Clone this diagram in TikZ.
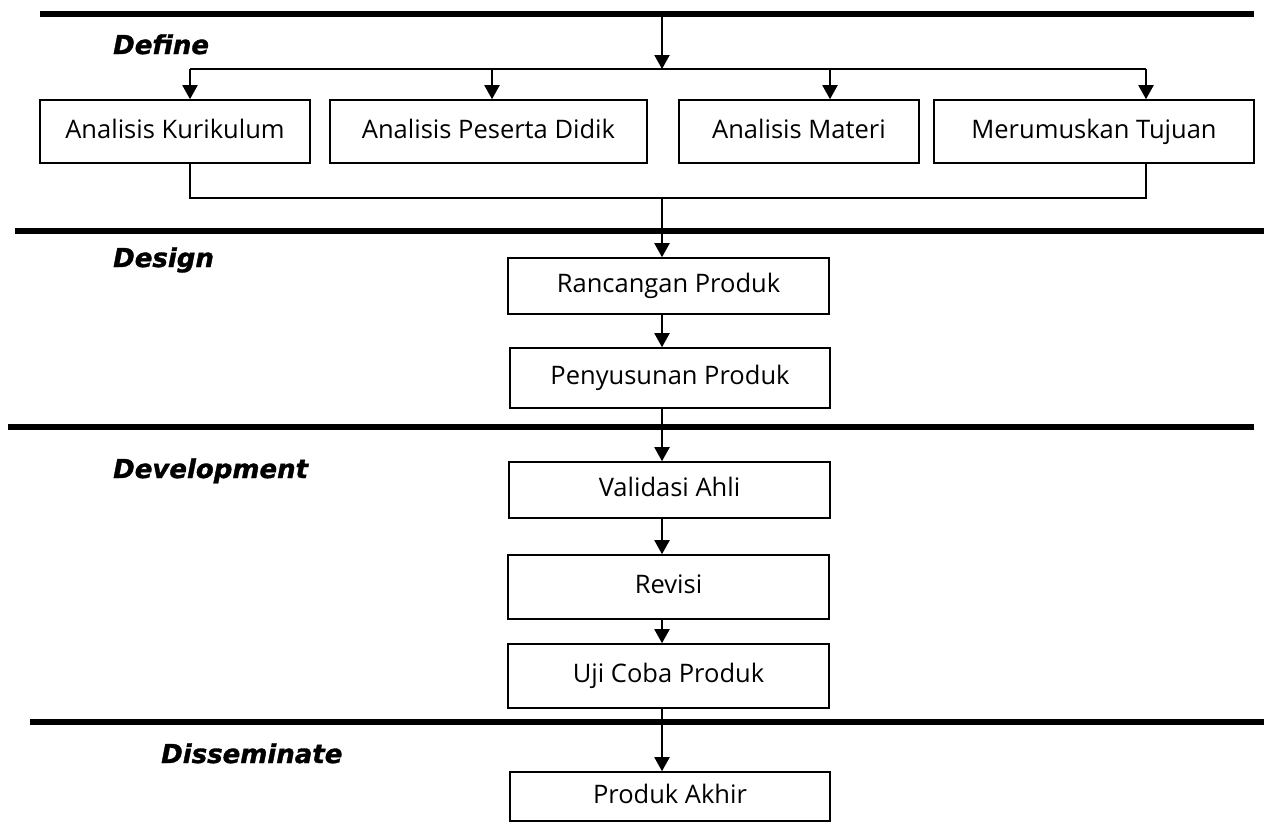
\documentclass[tikz,border=0pt]{standalone}
\usepackage{fontspec}
\setmainfont{Open Sans}
\newfontfamily\headfont{DejaVu Sans}[BoldItalicFeatures={FakeBold=1.2}]
\usetikzlibrary{arrows.meta}

\begin{document}
\begin{tikzpicture}[x=1pt, y=-1pt]
        \useasboundingbox (0,0) rectangle (1264,823);
        % phase separators
        \begin{scope}[line width=6pt]
                \draw (40,14) -- (1254,14);
                \draw (15,231) -- (1264,231);
                \draw (8,427) -- (1254,427);
                \draw (30,722) -- (1264,722);
        \end{scope}
        % phase titles
        \begin{scope}[every node/.style={anchor=base west, inner sep=0pt, font=\headfont\bfseries\itshape\fontsize{26}{30}\selectfont}]
                \node (Define) at (113,54) {Define};
                \node (Design) at (113,267) {Design};
                \node (Development) at (113,478) {Development};
                \node (Disseminate) at (161,763) {Disseminate};
        \end{scope}
        % steps
        \begin{scope}[every node/.style={draw, line width=1.6pt, inner sep=0pt, text height=18pt, text depth=5pt, font=\fontsize{25.5}{30}\selectfont}]
                \node[minimum width=270pt, minimum height=63pt] (Kur) at (175,131.5) {Analisis Kurikulum};
                \node[minimum width=317pt, minimum height=63pt] (Ppd) at (488.5,131.5) {Analisis Peserta Didik};
                \node[minimum width=240pt, minimum height=63pt] (Mat) at (799,131.5) {Analisis Materi};
                \node[minimum width=320pt, minimum height=63pt] (Tuj) at (1094,131.5) {Merumuskan Tujuan};
                \node[minimum width=321pt, minimum height=56pt] (Ran) at (668.5,286) {Rancangan Produk};
                \node[minimum width=320pt, minimum height=60pt] (Pen) at (670,378) {Penyusunan Produk};
                \node[minimum width=321pt, minimum height=56pt] (Val) at (669.5,490) {Validasi Ahli};
                \node[minimum width=321pt, minimum height=64pt] (Rev) at (668.5,587) {Revisi};
                \node[minimum width=321pt, minimum height=64pt] (Uji) at (668.5,676) {Uji Coba Produk};
                \node[minimum width=320pt, minimum height=49pt] (Akhir) at (670,796.5) {Produk Akhir};
        \end{scope}
        \coordinate (Top) at (662,17);
        \coordinate (Fork) at (662,69);
        \coordinate (Join) at (662,198);
        \coordinate (ForkL) at (190,69);
        \coordinate (ForkR) at (1146,69);
        \coordinate (JoinL) at (190,198);
        \coordinate (JoinR) at (1146,198);
        \begin{scope}[every path/.style={line width=1.3pt}]
                \draw (ForkL) -- (ForkR);
                \draw (Kur.south -| JoinL) -- (JoinL) -- (JoinR) -- (Tuj.south -| JoinR);
        \end{scope}
        \begin{scope}[every path/.style={line width=2pt, -{Triangle[width=15pt, length=14pt]}}]
                \path (Top) edge (Fork);
                \path (ForkL) edge (Kur.north -| ForkL);
                \path (492,69) edge (Ppd.north -| 492,0);
                \path (830,69) edge (Mat.north -| 830,0);
                \path (ForkR) edge (Tuj.north -| ForkR);
                \path (Join) edge (Ran.north -| Join);
                \path (Ran.south -| Join) edge (Pen.north -| Join);
                \path (Pen.south -| Join) edge (Val.north -| Join);
                \path (Val.south -| Join) edge (Rev.north -| Join);
                \path (Rev.south -| Join) edge (Uji.north -| Join);
                \path (Uji.south -| Join) edge (Akhir.north -| Join);
        \end{scope}
\end{tikzpicture}
\end{document}
